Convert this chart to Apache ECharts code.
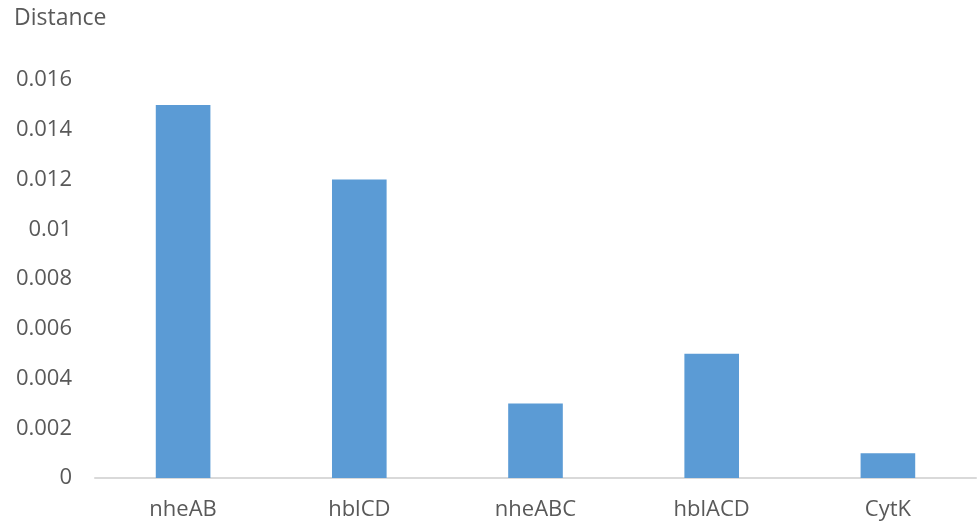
<!DOCTYPE html>
<html>
<head>
<meta charset="utf-8">
<script src="https://cdn.jsdelivr.net/npm/echarts@6/dist/echarts.min.js"></script>
<style>html,body{margin:0;padding:0;background:#fff;}#c{width:977px;height:523px;}</style>
</head>
<body>
<div id="c"></div>
<script>
const categories = ['nheAB', 'hblCD', 'nheABC', 'hblACD', 'CytK'];
const distances = [0.015, 0.012, 0.003, 0.005, 0.001];
const yTickLabels = ['0', '0.002', '0.004', '0.006', '0.008', '0.01', '0.012', '0.014', '0.016'];

const chart = echarts.init(document.getElementById('c'), null, {renderer: 'canvas'});
chart.setOption({
  animation: false,
  backgroundColor: '#ffffff',
  textStyle: {fontFamily: 'Open Sans, sans-serif'},
  graphic: [{
    type: 'text', left: 14, top: 7,
    style: {text: 'Distance', fontSize: 23, fill: '#595959', fontFamily: 'Open Sans, sans-serif'}
  }],
  grid: {left: 95, right: 1, top: 80, bottom: 45, containLabel: false},
  xAxis: {
    type: 'category',
    data: categories,
    axisLine: {show: true, lineStyle: {color: '#d9d9d9', width: 2}},
    axisTick: {show: false},
    axisLabel: {color: '#595959', fontSize: 22, margin: 21, fontFamily: 'Open Sans, sans-serif'}
  },
  yAxis: {
    type: 'value',
    min: 0, max: 0.016, interval: 0.002,
    splitLine: {show: false},
    axisLine: {show: false},
    axisTick: {show: false},
    axisLabel: {
      color: '#595959', fontSize: 22, margin: 23, fontFamily: 'Open Sans, sans-serif',
      formatter: function (v) {
        const i = Math.round(v / 0.002);
        return yTickLabels[i] !== undefined ? yTickLabels[i] : '';
      }
    }
  },
  series: [{
    type: 'bar',
    data: distances,
    barWidth: '31%',
    itemStyle: {color: '#5b9bd5'}
  }]
});
</script>
</body>
</html>
